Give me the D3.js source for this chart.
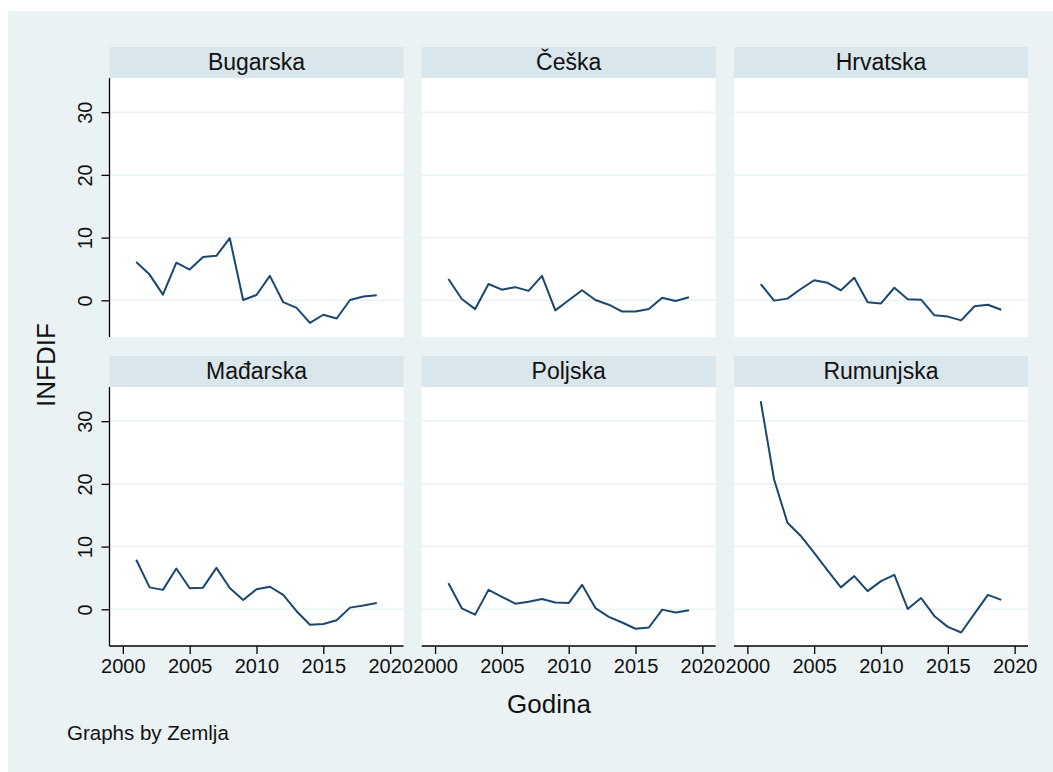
<!DOCTYPE html>
<html>
<head>
<meta charset="utf-8">
<script src="https://cdn.jsdelivr.net/npm/d3@7"></script>
<style>
  html, body { margin: 0; padding: 0; background: #ffffff; }
  svg { display: block; font-family: "Liberation Sans", Arial, Helvetica, sans-serif; }
</style>
</head>
<body>
<svg id="chart" width="1053" height="772"></svg>
<script>
const countries = ["Bugarska", "Češka", "Hrvatska", "Mađarska", "Poljska", "Rumunjska"];
const years = [2001,2002,2003,2004,2005,2006,2007,2008,2009,2010,2011,2012,2013,2014,2015,2016,2017,2018,2019];
const bugarska  = [6.1, 4.1, 0.9, 6.0, 4.9, 6.9, 7.1, 9.9, 0.05, 0.85, 3.9, -0.3, -1.2, -3.6, -2.3, -2.9, 0.05, 0.6, 0.8];
const ceska     = [3.4, 0.2, -1.4, 2.6, 1.7, 2.1, 1.5, 3.9, -1.6, 0.0, 1.6, 0.05, -0.7, -1.8, -1.8, -1.4, 0.4, -0.1, 0.5];
const hrvatska  = [2.6, -0.05, 0.27, 1.8, 3.2, 2.8, 1.6, 3.6, -0.3, -0.5, 2.0, 0.17, 0.1, -2.4, -2.6, -3.2, -0.95, -0.7, -1.5];
const madarska  = [7.9, 3.5, 3.1, 6.5, 3.35, 3.45, 6.6, 3.4, 1.5, 3.2, 3.6, 2.3, -0.3, -2.45, -2.35, -1.75, 0.27, 0.6, 1.0];
const poljska   = [4.15, 0.16, -0.85, 3.1, 2.0, 0.9, 1.2, 1.65, 1.1, 1.0, 3.9, 0.2, -1.2, -2.1, -3.1, -2.9, -0.05, -0.5, -0.16];
const rumunjska = [33.2, 20.7, 13.8, 11.7, 9.0, 6.2, 3.5, 5.3, 2.9, 4.5, 5.5, 0.05, 1.8, -1.1, -2.8, -3.7, -0.7, 2.3, 1.5];
const seriesValues = [bugarska, ceska, hrvatska, madarska, poljska, rumunjska];
const xTicks = [2000, 2005, 2010, 2015, 2020];
const yTicks = [0, 10, 20, 30];
const yTitle = "INFDIF";
const xTitle = "Godina";
const note = "Graphs by Zemlja";

const svg = d3.select("#chart");
svg.append("rect").attr("x", 8).attr("y", 11).attr("width", 1045).attr("height", 761).attr("fill", "#eaf2f3");

const colX = [109.5, 421.7, 734];
const panelW = 294;
const rowTop = [47, 356];
const headerH = 31;
const plotH = 259;
const lineColor = "#1a476f";
const gridColor = "#eaf2f3";

countries.forEach((name, i) => {
  const col = i % 3, row = Math.floor(i / 3);
  const x0 = colX[col];
  const hy = rowTop[row];
  const py0 = hy + headerH, py1 = py0 + plotH;
  const g = svg.append("g");

  const x = d3.scaleLinear().domain([1999, 2021]).range([x0, x0 + panelW]);
  const y = d3.scaleLinear().domain([-5.85, 35.45]).range([py1, py0]);

  // header
  g.append("rect").attr("x", x0).attr("y", hy).attr("width", panelW).attr("height", headerH).attr("fill", "#d9e6eb");
  g.append("text").attr("x", x0 + panelW / 2).attr("y", hy + 23).attr("text-anchor", "middle")
    .attr("font-size", 23).attr("fill", "#111").text(name);

  // plot area
  g.append("rect").attr("x", x0).attr("y", py0).attr("width", panelW).attr("height", plotH).attr("fill", "#ffffff");

  // gridlines
  g.selectAll(".grid").data(yTicks).enter().append("line")
    .attr("x1", x0).attr("x2", x0 + panelW)
    .attr("y1", d => y(d)).attr("y2", d => y(d))
    .attr("stroke", gridColor).attr("stroke-width", 1.5);

  // data line
  const data = years.map((yr, k) => [yr, seriesValues[i][k]]);
  g.append("path").datum(data)
    .attr("fill", "none").attr("stroke", lineColor).attr("stroke-width", 2)
    .attr("stroke-linejoin", "round")
    .attr("d", d3.line().x(d => x(d[0])).y(d => y(d[1])));

  // y axis for first column
  if (col === 0) {
    const ya = g.append("g").attr("transform", `translate(${x0},0)`)
      .call(d3.axisLeft(y).tickValues(yTicks).tickSize(8).tickPadding(0).tickFormat(d3.format("d")));
    ya.select(".domain").remove();
    ya.append("line").attr("x1", 0).attr("x2", 0).attr("y1", py0).attr("y2", py1).attr("stroke", "#000").attr("stroke-width", 1.3);
    ya.selectAll(".tick line").attr("stroke", "#000").attr("stroke-width", 1.3);
    ya.selectAll(".tick text").attr("font-size", 20).attr("fill", "#111")
      .attr("font-family", "Liberation Sans, Arial, sans-serif")
      .attr("text-anchor", "middle").attr("dy", 0)
      .attr("transform", "translate(-18,0) rotate(-90)").attr("x", 0).attr("y", 0);
  }

  // x axis for bottom row
  if (row === 1) {
    const xa = g.append("g").attr("transform", `translate(0,${py1})`)
      .call(d3.axisBottom(x).tickValues(xTicks).tickSize(8).tickPadding(5).tickFormat(d3.format("d")));
    xa.select(".domain").remove();
    xa.append("line").attr("x1", x0).attr("x2", x0 + panelW).attr("y1", 0).attr("y2", 0).attr("stroke", "#000").attr("stroke-width", 1.3);
    xa.selectAll(".tick line").attr("stroke", "#000").attr("stroke-width", 1.3);
    xa.selectAll(".tick text").attr("font-size", 20).attr("fill", "#111")
      .attr("font-family", "Liberation Sans, Arial, sans-serif");
  }
});

svg.append("text").attr("transform", "translate(55,365) rotate(-90)").attr("text-anchor", "middle")
  .attr("font-size", 26).attr("fill", "#111").text(yTitle);
svg.append("text").attr("x", 549).attr("y", 713).attr("text-anchor", "middle")
  .attr("font-size", 26).attr("fill", "#111").text(xTitle);
svg.append("text").attr("x", 67).attr("y", 740)
  .attr("font-size", 20.5).attr("fill", "#111").text(note);
</script>
</body>
</html>
